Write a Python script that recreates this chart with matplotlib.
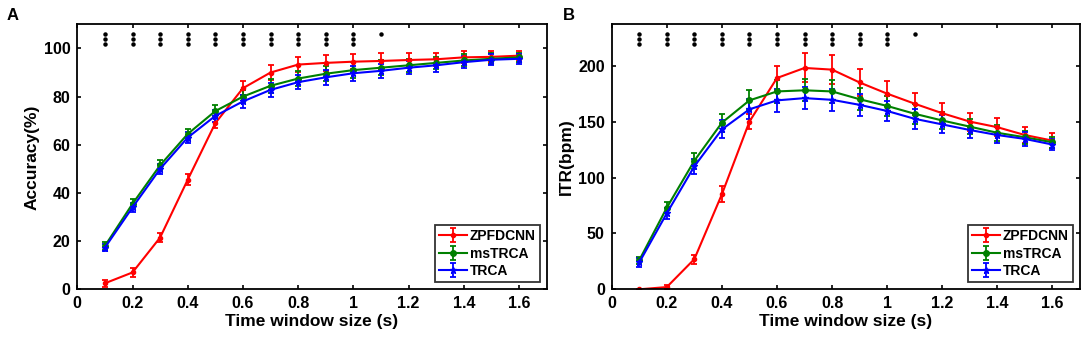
import matplotlib
matplotlib.use("Agg")
import matplotlib.pyplot as plt
from matplotlib.transforms import blended_transform_factory
import numpy as np

plt.rcParams['font.family'] = ['Liberation Sans', 'DejaVu Sans']
plt.rcParams['font.weight'] = 'bold'

time_windows = [0.1, 0.2, 0.3, 0.4, 0.5, 0.6, 0.7, 0.8, 0.9, 1.0, 1.1, 1.2, 1.3, 1.4, 1.5, 1.6]
methods = ["ZPFDCNN", "msTRCA", "TRCA"]

acc_zpfdcnn = [2.5, 7, 21.5, 45.5, 69, 83.5, 90, 93.3, 94, 94.5, 94.8, 95.2, 95.5, 96.3, 96.5, 97]
acc_zpfdcnn_err = [1.5, 2, 2, 2.2, 2, 3, 3, 3.2, 3.3, 3.2, 3.2, 3, 2.8, 2.5, 2.3, 2]
acc_mstrca = [18, 35.5, 51.5, 64.5, 74, 80, 84.5, 87.5, 89.5, 91, 92, 93, 94, 95, 95.7, 96.3]
acc_mstrca_err = [1.5, 2, 2, 2.2, 2.5, 2.8, 3, 3, 3.2, 3.2, 3, 2.8, 2.6, 2.5, 2.2, 2]
acc_trca = [17.3, 34, 50, 63, 72, 78, 82.8, 86, 88, 89.7, 90.7, 92, 93, 94.3, 95.3, 95.7]
acc_trca_err = [1.5, 2, 2, 2.2, 2.5, 2.8, 3, 3, 3.2, 3.2, 3, 2.8, 2.6, 2.5, 2.2, 2]

itr_zpfdcnn = [0, 2, 27, 85, 150, 189, 198, 196.5, 185, 175, 166, 157.5, 150, 145, 138, 133]
itr_zpfdcnn_err = [0.5, 1.5, 4, 7, 7, 11, 13, 13, 12, 11, 10, 9, 8, 8, 7, 7]
itr_mstrca = [26, 73, 115, 149, 169, 177, 178, 177, 170, 164, 157, 151, 145.5, 140, 136, 131.5]
itr_mstrca_err = [3, 5, 7, 8, 9, 10, 10, 10, 10, 9, 9, 8, 7, 7, 6, 5]
itr_trca = [24, 68, 110, 143, 161, 169, 171, 169.5, 165, 159.5, 152.5, 147.5, 142.5, 138, 134.5, 129.5]
itr_trca_err = [4, 5, 7, 8, 9, 10, 10, 10, 10, 9, 9, 8, 7, 7, 6, 5]

# significance level (number of stars) per time window
significance = [3, 3, 3, 3, 3, 3, 3, 3, 3, 3, 1, 0, 0, 0, 0, 0]

colors = ["#ff0000", "#008000", "#0000ff"]
markers = [".", "o", "*"]
msizes = [6, 4, 5]

fig = plt.figure(figsize=(10.84, 3.41), dpi=100)
axA = fig.add_axes([0.0713, 0.1516, 0.433, 0.777])
axB = fig.add_axes([0.5643, 0.1516, 0.432, 0.777])

panels = [
    (axA, [acc_zpfdcnn, acc_mstrca, acc_trca], [acc_zpfdcnn_err, acc_mstrca_err, acc_trca_err],
     "Accuracy(%)", (0, 110), [0, 20, 40, 60, 80, 100], "A", 0.006),
    (axB, [itr_zpfdcnn, itr_mstrca, itr_trca], [itr_zpfdcnn_err, itr_mstrca_err, itr_trca_err],
     "ITR(bpm)", (0, 237), [0, 50, 100, 150, 200], "B", 0.519),
]

for ax, series, errs, ylabel, ylim, yticks, letter, lx in panels:
    for name, vals, err, c, m, ms in zip(methods, series, errs, colors, markers, msizes):
        ax.errorbar(time_windows, vals, yerr=err, color=c, marker=m, markersize=ms,
                    linewidth=1.5, elinewidth=1.3, capsize=2.5, capthick=1.3, label=name)
    ax.set_xlim(0, 1.7)
    ax.set_ylim(*ylim)
    ax.set_xticks([0, 0.2, 0.4, 0.6, 0.8, 1.0, 1.2, 1.4, 1.6])
    ax.set_xticklabels(["0", "0.2", "0.4", "0.6", "0.8", "1", "1.2", "1.4", "1.6"])
    ax.set_yticks(yticks)
    ax.tick_params(direction='in', top=True, right=True, length=3, width=1.2,
                   labelsize=11.5, pad=5)
    for lab in ax.get_xticklabels() + ax.get_yticklabels():
        lab.set_fontweight('bold')
    for sp in ax.spines.values():
        sp.set_linewidth(1.3)
    ax.set_xlabel("Time window size (s)", fontsize=12.5, fontweight='bold', labelpad=2)
    ax.set_ylabel(ylabel, fontsize=12.5, fontweight='bold', labelpad=3)
    leg = ax.legend(loc='lower right', frameon=True, fancybox=False, edgecolor='black',
                    handlelength=2.0, handletextpad=0.2, borderpad=0.3,
                    labelspacing=0.25, borderaxespad=0.5, prop={'weight': 'bold', 'size': 10})
    leg.get_frame().set_linewidth(1.3)

    trans = blended_transform_factory(ax.transData, ax.transAxes)
    for x, n in zip(time_windows, significance):
        for k in range(n):
            ax.plot([x], [0.963 - 0.019 * k], marker='o', markersize=2.2, color='black',
                    linestyle='none', transform=trans, clip_on=False)

    fig.text(lx, 0.955, letter, fontsize=12, fontweight='bold', va='center')

fig.savefig("out.png", dpi=100)
